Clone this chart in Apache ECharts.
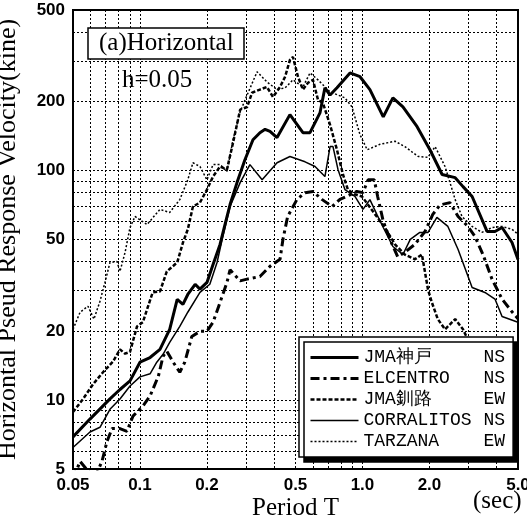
<!DOCTYPE html>
<html><head><meta charset="utf-8">
<script src="https://cdn.jsdelivr.net/npm/echarts@6/dist/echarts.min.js"></script>
<style>html,body{margin:0;padding:0;background:#fff}#c{width:527px;height:516px}</style>
</head><body><div id="c"></div>
<script>
// Period (sec) and pseudo response velocity (kine)
const kobeT = [0.05,0.0596,0.0733,0.0813,0.0902,0.1,0.111,0.123,0.136,0.147,0.156,0.164,0.177,0.186,0.2,0.213,0.229,0.241,0.254,0.273,0.296,0.322,0.346,0.365,0.384,0.413,0.472,0.54,0.581,0.644,0.678,0.715,0.768,0.879,0.975,1.08,1.24,1.37,1.52,1.76,2.01,2.28,2.61,2.83,3.11,3.63,3.94,4.24,4.7,5.0];
const kobeV = [6.9,8.25,10.1,11.1,12.1,14.6,15.3,16.6,20.3,27.4,26.1,28.8,31.9,30.4,32.5,38.9,47.6,58.1,71,88.5,111,136,146,151,148,139,175,146,146,178,229,213,229,266,256,225,171,207,189,155,123,96,93,85,77,54.2,54.2,56.4,48.5,40.9];

const elcT = [0.05,0.0538,0.0584,0.0628,0.0675,0.0711,0.0749,0.0813,0.0874,0.093,0.103,0.111,0.121,0.127,0.132,0.141,0.151,0.159,0.171,0.186,0.2,0.213,0.229,0.246,0.254,0.282,0.303,0.346,0.384,0.426,0.439,0.461,0.508,0.552,0.599,0.657,0.73,0.792,0.86,0.944,1.005,1.06,1.13,1.17,1.24,1.33,1.44,1.55,1.72,1.91,2.07,2.23,2.47,2.69,2.98,3.2,3.48,3.82,4.24,4.7,5.0];
const elcV = [4.5,5.4,4.9,4.6,5.4,6.6,7.5,7.5,7.3,8.5,9.4,10.4,12.7,15.5,16.3,14.6,13.2,14.6,18.9,19.9,19.9,21.8,26.6,32.5,36.9,33,33.6,34.5,38.2,41,50,63,74.8,80,81,74.8,69.6,74.8,77.5,81,80,91,91,77,60,50,42,44,47.6,54.2,64.3,70.7,72.4,63,57,51.6,43,33.6,27.5,24.2,22.6];

const kushiroT = [0.05,0.0555,0.0615,0.0682,0.0757,0.0813,0.0857,0.0902,0.097,0.103,0.114,0.123,0.132,0.147,0.156,0.164,0.173,0.186,0.2,0.213,0.229,0.246,0.262,0.282,0.303,0.319,0.346,0.372,0.396,0.426,0.449,0.472,0.487,0.513,0.54,0.569,0.599,0.631,0.664,0.715,0.768,0.817,0.86,0.925,0.995,1.14,1.26,1.4,1.55,1.72,1.85,1.97,2.05,2.18,2.35,2.61,2.83,3.2,5.0];
const kushiroV = [8.85,10.1,11.7,13.2,14.7,16.6,15.9,16.2,20.9,21.8,29.4,29.7,36.3,39.7,48.5,55.3,69.6,72.4,82.5,94,104,101,132,184,189,218,225,231,209,231,256,303,312,256,225,241,248,203,197,158,123,96,82.5,78.6,77,64.3,56.4,47.6,43,41,43,30.3,26.6,22.5,20.3,22.5,20.3,15.8,9.2];

const corrT = [0.05,0.0596,0.0661,0.0733,0.0813,0.0902,0.1,0.111,0.119,0.127,0.136,0.151,0.164,0.186,0.206,0.222,0.234,0.254,0.282,0.312,0.354,0.413,0.472,0.552,0.612,0.678,0.715,0.737,0.776,0.834,0.925,1.005,1.08,1.16,1.24,1.37,1.52,1.64,1.81,1.97,2.16,2.42,2.69,3.11,3.55,3.94,4.24,5.0];
const corrV = [6.2,7.25,7.6,9.1,10.1,11.5,12.6,13.0,14.6,15.8,17.8,20.9,24.1,29.4,31.9,39.7,50,69.6,88.5,106,91,108,115,109,104,94,127,127,101,82.5,77,67.6,74.6,64.3,56.4,46.6,43,50.1,53.7,53.7,62.4,57,45.2,30.9,29.4,27.5,23.1,21.8];

const tarzT = [0.05,0.0538,0.0584,0.0621,0.0661,0.0696,0.0733,0.0788,0.0813,0.0857,0.0902,0.095,0.1075,0.123,0.136,0.151,0.164,0.173,0.186,0.2,0.213,0.229,0.246,0.262,0.282,0.303,0.336,0.372,0.413,0.449,0.487,0.54,0.581,0.631,0.715,0.834,0.897,0.975,1.05,1.2,1.4,1.55,1.78,1.97,2.12,2.35,2.61,2.8,3.11,3.44,3.82,4.24,4.7,5.0];
const tarzV = [20.3,24.1,25.6,22.5,26.9,32.5,39.7,40.1,36.3,43.9,56.4,63,58.1,67.6,65.6,74.6,91,108,104,91,106,106,99,136,180,213,269,243,225,229,248,231,266,248,220,207,189,143,123,130,134,127,115,114,127,104,74.6,63,57,53.7,56.4,57,55.4,52.7];

const seriesNames = ['JMA神戸','ELCENTRO','JMA釧路','CORRALITOS','TARZANA'];
const components = ['NS','NS','EW','NS','EW'];

const xGridValues = [0.05,0.06,0.07,0.08,0.09,0.1,0.2,0.3,0.4,0.5,0.6,0.7,0.8,0.9,1,2,3,4,5];
const xLabelValues = [0.05,0.1,0.2,0.5,1,2,5];
const xLabelText = ['0.05','0.1','0.2','0.5','1.0','2.0','5.0'];
const yGridValues = [5,6,7,8,9,10,20,30,40,50,60,70,80,90,100,200,300,400,500];
const yLabelValues = [5,10,20,50,100,200,500];
const yLabelText = ['5','10','20','50','100','200','500'];

function pairs(t, v) { return t.map((x, i) => [x, v[i]]); }

const chart = echarts.init(document.getElementById('c'));
const labelFont = {fontFamily: 'Liberation Sans', fontWeight: 'bold', fontSize: 17, color: '#000'};
const gridLine = {show: true, lineStyle: {color: '#000', width: 1, type: [2, 2]}};

chart.setOption({
  animation: false,
  backgroundColor: '#fff',
  grid: {left: 73, right: 9, top: 10, bottom: 47, show: true, borderColor: '#000', borderWidth: 2, backgroundColor: 'transparent', containLabel: false, outerBoundsMode: 'none'},
  title: [
    {text: '(a)Horizontal', left: 88, top: 28, padding: [3, 11, 3, 11], borderColor: '#000', borderWidth: 1.5, backgroundColor: '#fff',
     textStyle: {fontFamily: 'Liberation Serif', fontWeight: 'normal', fontSize: 25, color: '#000'}},
    {text: 'h=0.05', left: 122, top: 68, padding: 0,
     textStyle: {fontFamily: 'Liberation Serif', fontWeight: 'normal', fontSize: 25, color: '#000'}}
  ],
  graphic: [
    {type: 'text', left: 473, top: 489, style: {text: '(sec)', font: '25px "Liberation Serif"', fill: '#000'}}
  ],
  legend: {
    orient: 'vertical', left: 299, top: 337, selectedMode: false,
    data: seriesNames,
    itemWidth: 48, itemHeight: 14, itemGap: 0,
    padding: [10, 8, 5, 10],
    itemStyle: {opacity: 0},
    lineStyle: {width: 'inherit', type: 'inherit', color: '#000'},
    backgroundColor: '#fff', borderColor: '#000', borderWidth: 1.5,
    shadowColor: '#000', shadowOffsetX: 5, shadowOffsetY: 5, shadowBlur: 0,
    formatter: function (name) { return '{n|' + name + '}{c|' + components[seriesNames.indexOf(name)] + '}'; },
    textStyle: {fontFamily: 'Liberation Mono', fontSize: 18, color: '#000', lineHeight: 21,
      rich: {n: {width: 120, fontFamily: 'Liberation Mono', fontSize: 18, lineHeight: 21}, c: {fontFamily: 'Liberation Mono', fontSize: 18, lineHeight: 21}}}
  },
  xAxis: {
    type: 'log', logBase: 10, min: 0.05, max: 5,
    name: 'Period T', nameLocation: 'middle', nameGap: 27, nameMoveOverlap: false,
    nameTextStyle: {fontFamily: 'Liberation Serif', fontSize: 25, color: '#000'},
    axisLine: {show: true, lineStyle: {color: '#000', width: 2}},
    axisTick: {show: false, customValues: xGridValues},
    axisLabel: Object.assign({customValues: xLabelValues, margin: 8, hideOverlap: false,
      formatter: v => { const i = xLabelValues.findIndex(a => Math.abs(a - v) < 1e-6); return i >= 0 ? xLabelText[i] : ''; }}, labelFont),
    splitLine: gridLine, minorTick: {show: false}, minorSplitLine: {show: false}
  },
  yAxis: {
    type: 'log', logBase: 10, min: 5, max: 500,
    name: 'Horizontal Pseud Response Velocity(kine)', nameLocation: 'middle', nameGap: 52, nameRotate: 90,
    nameTextStyle: {fontFamily: 'Liberation Serif', fontSize: 26, color: '#000', padding: [0, 0, 0, 0]},
    axisLine: {show: true, lineStyle: {color: '#000', width: 2}},
    axisTick: {show: false, customValues: yGridValues},
    axisLabel: Object.assign({customValues: yLabelValues, margin: 8, hideOverlap: false,
      formatter: v => { const i = yLabelValues.findIndex(a => Math.abs(a - v) < 1e-6); return i >= 0 ? yLabelText[i] : ''; }}, labelFont),
    splitLine: gridLine
  },
  series: [
    {name: seriesNames[0], type: 'line', data: pairs(kobeT, kobeV), showSymbol: false, symbol: 'none', itemStyle: {color: '#000'}, lineStyle: {color: '#000', width: 3}},
    {name: seriesNames[1], type: 'line', data: pairs(elcT, elcV), showSymbol: false, symbol: 'none', itemStyle: {color: '#000'}, lineStyle: {color: '#000', width: 3, type: [9, 4, 3, 4]}},
    {name: seriesNames[2], type: 'line', data: pairs(kushiroT, kushiroV), showSymbol: false, symbol: 'none', itemStyle: {color: '#000'}, lineStyle: {color: '#000', width: 2.5, type: [4, 2]}},
    {name: seriesNames[3], type: 'line', data: pairs(corrT, corrV), showSymbol: false, symbol: 'none', itemStyle: {color: '#000'}, lineStyle: {color: '#000', width: 1.5}},
    {name: seriesNames[4], type: 'line', data: pairs(tarzT, tarzV), showSymbol: false, symbol: 'none', itemStyle: {color: '#000'}, lineStyle: {color: '#000', width: 1.5, type: [2, 2]}}
  ]
});
</script></body></html>
